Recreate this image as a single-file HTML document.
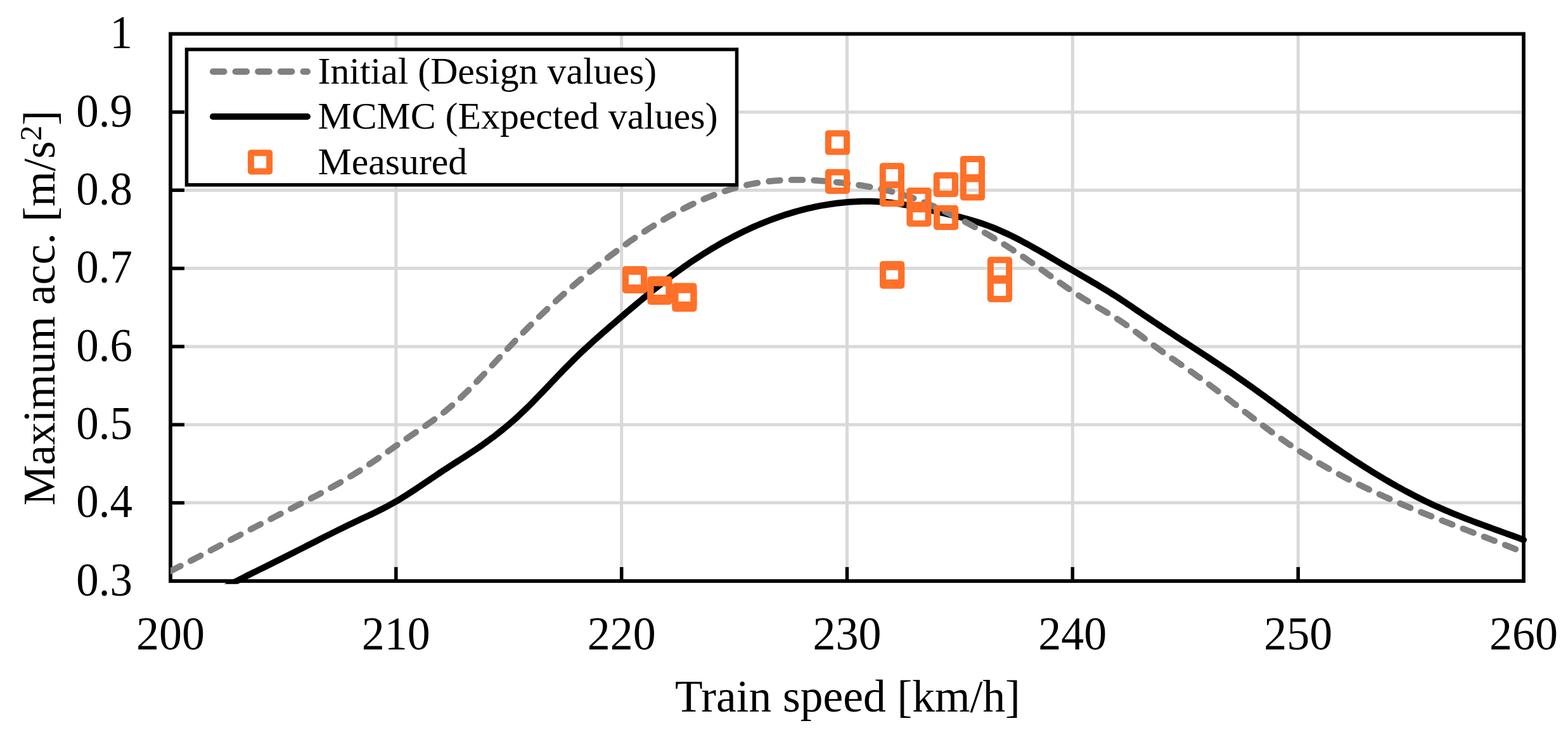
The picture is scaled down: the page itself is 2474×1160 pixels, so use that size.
<!DOCTYPE html>
<html><head><meta charset="utf-8"><title>Maximum acceleration vs train speed</title>
<style>
html,body{margin:0;padding:0;background:#fff;}
body{width:2474px;height:1160px;overflow:hidden;}
svg{display:block;}
text{font-family:"Liberation Serif","Times New Roman",serif;fill:#000;}
</style></head><body>
<svg width="2474" height="1160" viewBox="0 0 2474 1160">
<rect width="2474" height="1160" fill="#fff"/>
<defs><clipPath id="pa"><rect x="269" y="50" width="2145" height="871.8"/></clipPath></defs>
<g stroke="#D9D9D9" stroke-width="5"><line x1="272" y1="793.6" x2="2401" y2="793.6"/><line x1="272" y1="670.3" x2="2401" y2="670.3"/><line x1="272" y1="546.9" x2="2401" y2="546.9"/><line x1="272" y1="423.6" x2="2401" y2="423.6"/><line x1="272" y1="300.2" x2="2401" y2="300.2"/><line x1="272" y1="176.9" x2="2401" y2="176.9"/><line x1="624.8" y1="56" x2="624.8" y2="914"/><line x1="980.7" y1="56" x2="980.7" y2="914"/><line x1="1336.5" y1="56" x2="1336.5" y2="914"/><line x1="1692.3" y1="56" x2="1692.3" y2="914"/><line x1="2048.2" y1="56" x2="2048.2" y2="914"/></g>
<g stroke="#000" stroke-width="5.5"><line x1="270" y1="793.6" x2="291" y2="793.6"/><line x1="270" y1="670.3" x2="291" y2="670.3"/><line x1="270" y1="546.9" x2="291" y2="546.9"/><line x1="270" y1="423.6" x2="291" y2="423.6"/><line x1="270" y1="300.2" x2="291" y2="300.2"/><line x1="270" y1="176.9" x2="291" y2="176.9"/><line x1="624.8" y1="895" x2="624.8" y2="916"/><line x1="980.7" y1="895" x2="980.7" y2="916"/><line x1="1336.5" y1="895" x2="1336.5" y2="916"/><line x1="1692.3" y1="895" x2="1692.3" y2="916"/><line x1="2048.2" y1="895" x2="2048.2" y2="916"/></g>
<rect x="269" y="53.5" width="2135" height="863.5" fill="none" stroke="#000" stroke-width="5.75"/>
<g clip-path="url(#pa)" fill="none" stroke-linejoin="round" stroke-linecap="round"><polyline points="340.0,935.4 345.0,932.5 350.0,929.6 355.0,926.8 360.0,924.1 365.0,921.4 370.0,918.8 375.0,916.2 380.0,913.6 385.0,911.1 390.0,908.5 395.0,906.0 400.0,903.6 405.0,901.1 410.0,898.6 415.0,896.2 420.0,893.7 425.0,891.2 430.0,888.7 435.0,886.2 440.0,883.7 445.0,881.2 450.0,878.7 455.0,876.2 460.0,873.7 465.0,871.2 470.0,868.6 475.0,866.1 480.0,863.6 485.0,861.0 490.0,858.5 495.0,856.0 500.0,853.5 505.0,850.9 510.0,848.4 515.0,845.9 520.0,843.4 525.0,840.9 530.0,838.4 535.0,835.9 540.0,833.5 545.0,831.0 550.0,828.6 555.0,826.2 560.0,823.8 565.0,821.5 570.0,819.1 575.0,816.8 580.0,814.4 585.0,812.1 590.0,809.7 595.0,807.2 600.0,804.7 605.0,802.2 610.0,799.6 615.0,796.9 620.0,794.2 625.0,791.3 630.0,788.4 635.0,785.3 640.0,782.2 645.0,779.0 650.0,775.8 655.0,772.5 660.0,769.2 665.0,765.8 670.0,762.4 675.0,759.1 680.0,755.7 685.0,752.3 690.0,748.9 695.0,745.5 700.0,742.2 705.0,739.0 710.0,735.7 715.0,732.5 720.0,729.3 725.0,726.1 730.0,722.9 735.0,719.7 740.0,716.4 745.0,713.1 750.0,709.8 755.0,706.4 760.0,703.0 765.0,699.4 770.0,695.8 775.0,692.1 780.0,688.4 785.0,684.5 790.0,680.5 795.0,676.5 800.0,672.3 805.0,668.0 810.0,663.7 815.0,659.2 820.0,654.6 825.0,649.9 830.0,645.1 835.0,640.2 840.0,635.2 845.0,630.1 850.0,624.9 855.0,619.7 860.0,614.5 865.0,609.2 870.0,603.9 875.0,598.7 880.0,593.4 885.0,588.2 890.0,583.1 895.0,578.0 900.0,572.9 905.0,567.9 910.0,563.0 915.0,558.2 920.0,553.5 925.0,548.8 930.0,544.2 935.0,539.6 940.0,535.1 945.0,530.7 950.0,526.3 955.0,521.9 960.0,517.6 965.0,513.3 970.0,509.0 975.0,504.7 980.0,500.4 985.0,496.1 990.0,491.8 995.0,487.6 1000.0,483.4 1005.0,479.1 1010.0,475.0 1015.0,470.8 1020.0,466.7 1025.0,462.6 1030.0,458.5 1035.0,454.5 1040.0,450.6 1045.0,446.6 1050.0,442.7 1055.0,438.9 1060.0,435.1 1065.0,431.4 1070.0,427.8 1075.0,424.2 1080.0,420.6 1085.0,417.2 1090.0,413.7 1095.0,410.4 1100.0,407.1 1105.0,403.8 1110.0,400.6 1115.0,397.5 1120.0,394.4 1125.0,391.4 1130.0,388.5 1135.0,385.6 1140.0,382.7 1145.0,380.0 1150.0,377.3 1155.0,374.6 1160.0,372.0 1165.0,369.5 1170.0,367.0 1175.0,364.6 1180.0,362.2 1185.0,359.9 1190.0,357.7 1195.0,355.5 1200.0,353.4 1205.0,351.3 1210.0,349.3 1215.0,347.4 1220.0,345.5 1225.0,343.7 1230.0,342.0 1235.0,340.3 1240.0,338.6 1245.0,337.1 1250.0,335.6 1255.0,334.1 1260.0,332.7 1265.0,331.4 1270.0,330.1 1275.0,328.9 1280.0,327.8 1285.0,326.7 1290.0,325.7 1295.0,324.7 1300.0,323.8 1305.0,323.0 1310.0,322.2 1315.0,321.5 1320.0,320.8 1325.0,320.2 1330.0,319.7 1335.0,319.2 1340.0,318.8 1345.0,318.5 1350.0,318.2 1355.0,318.0 1360.0,317.8 1365.0,317.8 1370.0,317.7 1375.0,317.8 1380.0,317.9 1385.0,318.2 1390.0,318.5 1395.0,318.8 1400.0,319.3 1405.0,319.8 1410.0,320.4 1415.0,321.1 1420.0,321.9 1425.0,322.7 1430.0,323.6 1435.0,324.6 1440.0,325.6 1445.0,326.7 1450.0,327.7 1455.0,328.8 1460.0,330.0 1465.0,331.1 1470.0,332.2 1475.0,333.3 1480.0,334.5 1485.0,335.6 1490.0,336.7 1495.0,337.9 1500.0,339.0 1505.0,340.2 1510.0,341.5 1515.0,342.7 1520.0,344.0 1525.0,345.4 1530.0,346.8 1535.0,348.2 1540.0,349.8 1545.0,351.3 1550.0,353.0 1555.0,354.8 1560.0,356.6 1565.0,358.5 1570.0,360.5 1575.0,362.6 1580.0,364.8 1585.0,367.1 1590.0,369.4 1595.0,371.8 1600.0,374.3 1605.0,376.8 1610.0,379.4 1615.0,382.1 1620.0,384.7 1625.0,387.5 1630.0,390.3 1635.0,393.1 1640.0,395.9 1645.0,398.8 1650.0,401.7 1655.0,404.6 1660.0,407.6 1665.0,410.5 1670.0,413.5 1675.0,416.5 1680.0,419.4 1685.0,422.4 1690.0,425.3 1695.0,428.3 1700.0,431.2 1705.0,434.1 1710.0,437.0 1715.0,439.9 1720.0,442.9 1725.0,445.8 1730.0,448.7 1735.0,451.7 1740.0,454.7 1745.0,457.8 1750.0,460.8 1755.0,464.0 1760.0,467.1 1765.0,470.3 1770.0,473.6 1775.0,476.9 1780.0,480.3 1785.0,483.7 1790.0,487.1 1795.0,490.5 1800.0,493.9 1805.0,497.3 1810.0,500.6 1815.0,504.0 1820.0,507.4 1825.0,510.7 1830.0,514.0 1835.0,517.3 1840.0,520.6 1845.0,523.9 1850.0,527.2 1855.0,530.5 1860.0,533.8 1865.0,537.1 1870.0,540.3 1875.0,543.6 1880.0,546.9 1885.0,550.1 1890.0,553.4 1895.0,556.7 1900.0,559.9 1905.0,563.2 1910.0,566.5 1915.0,569.8 1920.0,573.1 1925.0,576.4 1930.0,579.8 1935.0,583.1 1940.0,586.5 1945.0,589.9 1950.0,593.4 1955.0,596.8 1960.0,600.3 1965.0,603.8 1970.0,607.4 1975.0,610.9 1980.0,614.5 1985.0,618.1 1990.0,621.7 1995.0,625.3 2000.0,629.0 2005.0,632.6 2010.0,636.3 2015.0,640.0 2020.0,643.7 2025.0,647.3 2030.0,651.0 2035.0,654.7 2040.0,658.4 2045.0,662.0 2050.0,665.7 2055.0,669.4 2060.0,673.0 2065.0,676.7 2070.0,680.3 2075.0,683.9 2080.0,687.5 2085.0,691.0 2090.0,694.6 2095.0,698.1 2100.0,701.6 2105.0,705.1 2110.0,708.5 2115.0,711.9 2120.0,715.3 2125.0,718.7 2130.0,722.0 2135.0,725.3 2140.0,728.6 2145.0,731.8 2150.0,735.0 2155.0,738.2 2160.0,741.3 2165.0,744.4 2170.0,747.5 2175.0,750.5 2180.0,753.5 2185.0,756.5 2190.0,759.4 2195.0,762.3 2200.0,765.2 2205.0,768.0 2210.0,770.7 2215.0,773.5 2220.0,776.2 2225.0,778.8 2230.0,781.4 2235.0,784.0 2240.0,786.5 2245.0,789.0 2250.0,791.4 2255.0,793.8 2260.0,796.2 2265.0,798.5 2270.0,800.7 2275.0,802.9 2280.0,805.1 2285.0,807.2 2290.0,809.3 2295.0,811.4 2300.0,813.4 2305.0,815.4 2310.0,817.4 2315.0,819.3 2320.0,821.2 2325.0,823.1 2330.0,825.0 2335.0,826.8 2340.0,828.7 2345.0,830.5 2350.0,832.3 2355.0,834.2 2360.0,836.0 2365.0,837.8 2370.0,839.6 2375.0,841.4 2380.0,843.2 2385.0,845.0 2390.0,846.8 2395.0,848.7 2400.0,850.5 2404.0,852.0" stroke="#000" stroke-width="10"/><polyline points="269.0,901.3 274.0,898.8 279.0,896.2 284.0,893.7 289.0,891.2 294.0,888.6 299.0,886.0 304.0,883.5 309.0,880.9 314.0,878.3 319.0,875.7 324.0,873.1 329.0,870.5 334.0,867.8 339.0,865.2 344.0,862.6 349.0,859.9 354.0,857.3 359.0,854.7 364.0,852.0 369.0,849.4 374.0,846.8 379.0,844.1 384.0,841.5 389.0,838.9 394.0,836.2 399.0,833.6 404.0,831.0 409.0,828.4 414.0,825.8 419.0,823.2 424.0,820.6 429.0,818.1 434.0,815.5 439.0,812.9 444.0,810.4 449.0,807.9 454.0,805.3 459.0,802.8 464.0,800.3 469.0,797.7 474.0,795.2 479.0,792.6 484.0,790.1 489.0,787.5 494.0,784.9 499.0,782.3 504.0,779.6 509.0,777.0 514.0,774.3 519.0,771.5 524.0,768.7 529.0,765.9 534.0,763.1 539.0,760.2 544.0,757.3 549.0,754.3 554.0,751.2 559.0,748.1 564.0,745.0 569.0,741.8 574.0,738.5 579.0,735.2 584.0,731.9 589.0,728.5 594.0,725.1 599.0,721.7 604.0,718.2 609.0,714.7 614.0,711.3 619.0,707.8 624.0,704.3 629.0,700.8 634.0,697.3 639.0,693.9 644.0,690.4 649.0,687.0 654.0,683.6 659.0,680.3 664.0,676.9 669.0,673.5 674.0,670.1 679.0,666.6 684.0,663.0 689.0,659.4 694.0,655.6 699.0,651.8 704.0,647.8 709.0,643.6 714.0,639.3 719.0,634.9 724.0,630.3 729.0,625.6 734.0,620.8 739.0,615.9 744.0,610.8 749.0,605.7 754.0,600.5 759.0,595.3 764.0,590.0 769.0,584.7 774.0,579.3 779.0,573.9 784.0,568.5 789.0,563.1 794.0,557.7 799.0,552.4 804.0,547.1 809.0,541.8 814.0,536.6 819.0,531.4 824.0,526.3 829.0,521.3 834.0,516.3 839.0,511.3 844.0,506.4 849.0,501.5 854.0,496.7 859.0,492.0 864.0,487.3 869.0,482.6 874.0,478.0 879.0,473.4 884.0,468.9 889.0,464.5 894.0,460.0 899.0,455.7 904.0,451.3 909.0,447.0 914.0,442.8 919.0,438.6 924.0,434.4 929.0,430.3 934.0,426.3 939.0,422.2 944.0,418.3 949.0,414.3 954.0,410.4 959.0,406.6 964.0,402.7 969.0,399.0 974.0,395.3 979.0,391.6 984.0,388.0 989.0,384.4 994.0,380.8 999.0,377.4 1004.0,373.9 1009.0,370.6 1014.0,367.2 1019.0,364.0 1024.0,360.7 1029.0,357.6 1034.0,354.5 1039.0,351.4 1044.0,348.4 1049.0,345.5 1054.0,342.6 1059.0,339.7 1064.0,337.0 1069.0,334.3 1074.0,331.6 1079.0,329.0 1084.0,326.5 1089.0,324.0 1094.0,321.6 1099.0,319.3 1104.0,317.1 1109.0,314.9 1114.0,312.7 1119.0,310.7 1124.0,308.7 1129.0,306.8 1134.0,304.9 1139.0,303.2 1144.0,301.5 1149.0,299.9 1154.0,298.3 1159.0,296.9 1164.0,295.5 1169.0,294.2 1174.0,292.9 1179.0,291.8 1184.0,290.7 1189.0,289.8 1194.0,288.9 1199.0,288.1 1204.0,287.3 1209.0,286.7 1214.0,286.1 1219.0,285.6 1224.0,285.1 1229.0,284.8 1234.0,284.5 1239.0,284.2 1244.0,284.0 1249.0,283.9 1254.0,283.9 1259.0,283.9 1264.0,283.9 1269.0,284.0 1274.0,284.2 1279.0,284.4 1284.0,284.6 1289.0,284.9 1294.0,285.3 1299.0,285.6 1304.0,286.1 1309.0,286.5 1314.0,287.0 1319.0,287.5 1324.0,288.0 1329.0,288.6 1334.0,289.2 1339.0,289.8 1344.0,290.5 1349.0,291.2 1354.0,291.9 1359.0,292.7 1364.0,293.5 1369.0,294.3 1374.0,295.2 1379.0,296.1 1384.0,297.1 1389.0,298.2 1394.0,299.3 1399.0,300.4 1404.0,301.6 1409.0,302.9 1414.0,304.3 1419.0,305.7 1424.0,307.2 1429.0,308.7 1434.0,310.3 1439.0,312.1 1444.0,313.8 1449.0,315.7 1454.0,317.7 1459.0,319.7 1464.0,321.7 1469.0,323.9 1474.0,326.1 1479.0,328.3 1484.0,330.6 1489.0,333.0 1494.0,335.4 1499.0,337.9 1504.0,340.3 1509.0,342.9 1514.0,345.4 1519.0,348.0 1524.0,350.7 1529.0,353.4 1534.0,356.1 1539.0,358.9 1544.0,361.7 1549.0,364.5 1554.0,367.4 1559.0,370.3 1564.0,373.3 1569.0,376.3 1574.0,379.4 1579.0,382.4 1584.0,385.6 1589.0,388.7 1594.0,391.9 1599.0,395.2 1604.0,398.5 1609.0,401.8 1614.0,405.1 1619.0,408.6 1624.0,412.0 1629.0,415.5 1634.0,419.0 1639.0,422.5 1644.0,426.1 1649.0,429.6 1654.0,433.2 1659.0,436.7 1664.0,440.3 1669.0,443.8 1674.0,447.3 1679.0,450.8 1684.0,454.3 1689.0,457.7 1694.0,461.1 1699.0,464.4 1704.0,467.6 1709.0,470.8 1714.0,473.9 1719.0,476.9 1724.0,479.9 1729.0,482.9 1734.0,485.9 1739.0,488.8 1744.0,491.8 1749.0,494.8 1754.0,497.8 1759.0,500.9 1764.0,504.1 1769.0,507.4 1774.0,510.8 1779.0,514.3 1784.0,517.9 1789.0,521.5 1794.0,525.2 1799.0,529.0 1804.0,532.7 1809.0,536.5 1814.0,540.3 1819.0,544.1 1824.0,547.8 1829.0,551.5 1834.0,555.1 1839.0,558.6 1844.0,562.1 1849.0,565.6 1854.0,569.1 1859.0,572.5 1864.0,575.9 1869.0,579.4 1874.0,582.8 1879.0,586.3 1884.0,589.8 1889.0,593.4 1894.0,596.9 1899.0,600.6 1904.0,604.2 1909.0,607.9 1914.0,611.7 1919.0,615.4 1924.0,619.2 1929.0,623.0 1934.0,626.8 1939.0,630.6 1944.0,634.5 1949.0,638.3 1954.0,642.2 1959.0,646.0 1964.0,649.9 1969.0,653.7 1974.0,657.5 1979.0,661.3 1984.0,665.1 1989.0,668.9 1994.0,672.6 1999.0,676.3 2004.0,680.0 2009.0,683.6 2014.0,687.2 2019.0,690.8 2024.0,694.3 2029.0,697.8 2034.0,701.2 2039.0,704.5 2044.0,707.9 2049.0,711.1 2054.0,714.3 2059.0,717.5 2064.0,720.6 2069.0,723.7 2074.0,726.7 2079.0,729.7 2084.0,732.6 2089.0,735.5 2094.0,738.3 2099.0,741.1 2104.0,743.9 2109.0,746.6 2114.0,749.3 2119.0,752.0 2124.0,754.6 2129.0,757.2 2134.0,759.7 2139.0,762.3 2144.0,764.7 2149.0,767.2 2154.0,769.6 2159.0,772.0 2164.0,774.4 2169.0,776.7 2174.0,779.0 2179.0,781.3 2184.0,783.6 2189.0,785.8 2194.0,788.0 2199.0,790.2 2204.0,792.4 2209.0,794.5 2214.0,796.7 2219.0,798.8 2224.0,800.9 2229.0,803.0 2234.0,805.0 2239.0,807.1 2244.0,809.1 2249.0,811.1 2254.0,813.1 2259.0,815.1 2264.0,817.1 2269.0,819.1 2274.0,821.0 2279.0,823.0 2284.0,824.9 2289.0,826.9 2294.0,828.8 2299.0,830.8 2304.0,832.7 2309.0,834.6 2314.0,836.5 2319.0,838.5 2324.0,840.4 2329.0,842.3 2334.0,844.2 2339.0,846.2 2344.0,848.1 2349.0,850.0 2354.0,852.0 2359.0,853.9 2364.0,855.9 2369.0,857.9 2374.0,859.8 2379.0,861.8 2384.0,863.8 2389.0,865.8 2394.0,867.8 2399.0,869.9 2404.0,871.9" stroke="#808080" stroke-width="9.8" stroke-dasharray="17.8 17.84"/></g>
<g fill="none" stroke="#FF7028" stroke-width="10" stroke-linejoin="round"><rect x="986.9" y="424.9" width="29.2" height="29.2"/><rect x="986.9" y="428.8" width="29.2" height="29.2"/><rect x="1026.4" y="440.9" width="29.2" height="29.2"/><rect x="1026.4" y="446.8" width="29.2" height="29.2"/><rect x="1065.3" y="451.5" width="29.2" height="29.2"/><rect x="1065.3" y="457.7" width="29.2" height="29.2"/><rect x="1306.9" y="210.4" width="29.2" height="29.2"/><rect x="1306.9" y="271.8" width="29.2" height="29.2"/><rect x="1392.8" y="262.0" width="29.2" height="29.2"/><rect x="1392.8" y="292.1" width="29.2" height="29.2"/><rect x="1435.4" y="301.1" width="29.2" height="29.2"/><rect x="1435.4" y="323.6" width="29.2" height="29.2"/><rect x="1477.8" y="276.8" width="29.2" height="29.2"/><rect x="1478.0" y="328.8" width="29.2" height="29.2"/><rect x="1519.9" y="250.9" width="29.2" height="29.2"/><rect x="1519.9" y="282.4" width="29.2" height="29.2"/><rect x="1393.0" y="416.9" width="29.2" height="29.2"/><rect x="1393.0" y="421.6" width="29.2" height="29.2"/><rect x="1562.9" y="410.2" width="29.2" height="29.2"/><rect x="1562.9" y="442.8" width="29.2" height="29.2"/></g>
<rect x="294.5" y="78" width="868" height="213.8" fill="#fff" stroke="#000" stroke-width="5.5"/>
<line x1="335.8" y1="113" x2="485.1" y2="113" stroke="#808080" stroke-width="9.8" stroke-linecap="round" stroke-dasharray="17.8 17.84"/>
<line x1="335.9" y1="184" x2="485" y2="184" stroke="#000" stroke-width="10" stroke-linecap="round"/>
<g fill="none" stroke="#FF7028" stroke-width="10" stroke-linejoin="round"><rect x="395.9" y="241.3" width="29.2" height="29.2"/></g>
<g font-size="59.8">
<text x="501.5" y="132.1">Initial (Design values)</text>
<text x="501.5" y="203.1">MCMC (Expected values)</text>
<text x="501.5" y="275">Measured</text>
</g>
<g font-size="72"><text transform="translate(209,76.1) scale(0.985,1.04)" text-anchor="end">1</text><text transform="translate(209,199.5) scale(0.985,1.04)" text-anchor="end">0.9</text><text transform="translate(209,322.8) scale(0.985,1.04)" text-anchor="end">0.8</text><text transform="translate(209,446.2) scale(0.985,1.04)" text-anchor="end">0.7</text><text transform="translate(209,569.5) scale(0.985,1.04)" text-anchor="end">0.6</text><text transform="translate(209,692.9) scale(0.985,1.04)" text-anchor="end">0.5</text><text transform="translate(209,816.2) scale(0.985,1.04)" text-anchor="end">0.4</text><text transform="translate(209,939.6) scale(0.985,1.04)" text-anchor="end">0.3</text><text transform="translate(269.0,1024.5) scale(1,1.04)" text-anchor="middle">200</text><text transform="translate(624.8,1024.5) scale(1,1.04)" text-anchor="middle">210</text><text transform="translate(980.7,1024.5) scale(1,1.04)" text-anchor="middle">220</text><text transform="translate(1336.5,1024.5) scale(1,1.04)" text-anchor="middle">230</text><text transform="translate(1692.3,1024.5) scale(1,1.04)" text-anchor="middle">240</text><text transform="translate(2048.2,1024.5) scale(1,1.04)" text-anchor="middle">250</text><text transform="translate(2404.0,1024.5) scale(1,1.04)" text-anchor="middle">260</text></g>
<text transform="translate(1337.5,1123) scale(0.992,1)" font-size="72" text-anchor="middle">Train speed [km/h]</text>
<text transform="translate(86,486) rotate(-90)" font-size="71.7" text-anchor="middle">Maximum acc. [m/s<tspan font-size="49" dy="-21.2">2</tspan><tspan dy="21.2">]</tspan></text>
</svg>
</body></html>
